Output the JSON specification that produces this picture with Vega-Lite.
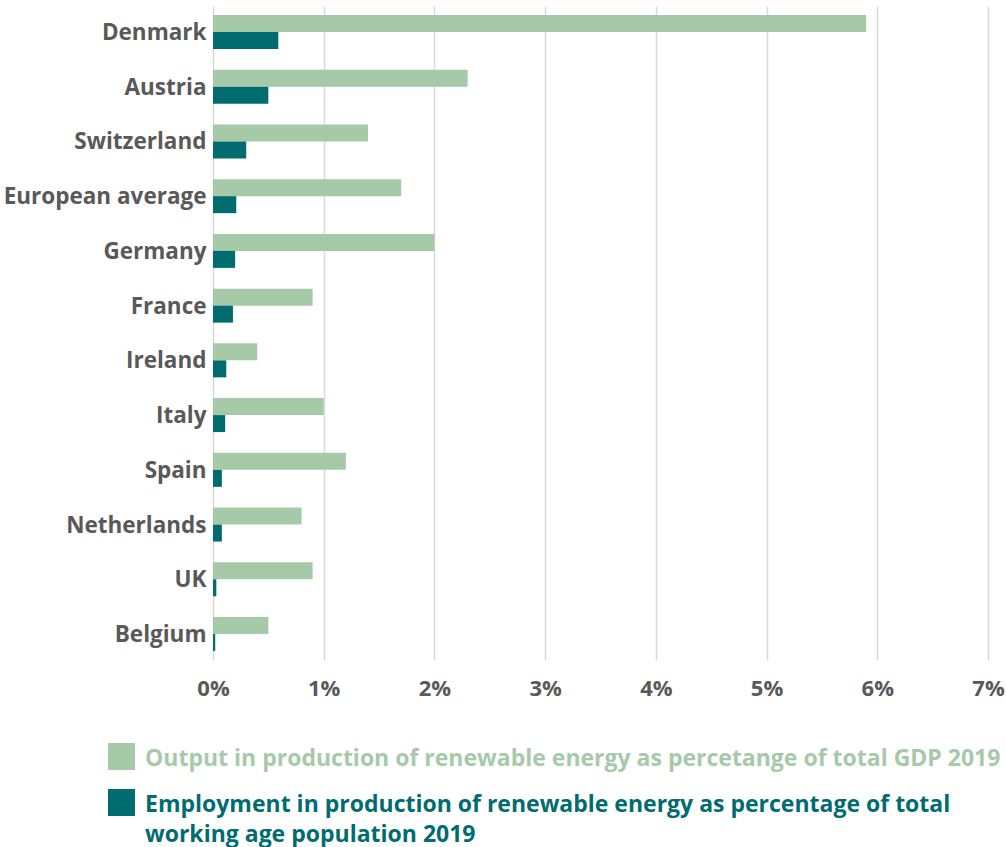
{
  "$schema": "https://vega.github.io/schema/vega-lite/v6.json",
  "width": 775,
  "height": 654,
  "autosize": {"type": "none"},
  "padding": {"left": 213, "top": 6, "right": 18, "bottom": 187},
  "background": "white",
  "config": {"view": {"stroke": null}, "font": "Open Sans"},
  "data": {
    "values": [
      {"country": "Denmark", "series": "Output in production of renewable energy as percetange of total GDP 2019", "value": 0.059},
      {"country": "Denmark", "series": "Employment in production of renewable energy as percentage of total working age population 2019", "value": 0.0059},
      {"country": "Austria", "series": "Output in production of renewable energy as percetange of total GDP 2019", "value": 0.023},
      {"country": "Austria", "series": "Employment in production of renewable energy as percentage of total working age population 2019", "value": 0.005},
      {"country": "Switzerland", "series": "Output in production of renewable energy as percetange of total GDP 2019", "value": 0.014},
      {"country": "Switzerland", "series": "Employment in production of renewable energy as percentage of total working age population 2019", "value": 0.003},
      {"country": "European average", "series": "Output in production of renewable energy as percetange of total GDP 2019", "value": 0.017},
      {"country": "European average", "series": "Employment in production of renewable energy as percentage of total working age population 2019", "value": 0.0021},
      {"country": "Germany", "series": "Output in production of renewable energy as percetange of total GDP 2019", "value": 0.020},
      {"country": "Germany", "series": "Employment in production of renewable energy as percentage of total working age population 2019", "value": 0.002},
      {"country": "France", "series": "Output in production of renewable energy as percetange of total GDP 2019", "value": 0.009},
      {"country": "France", "series": "Employment in production of renewable energy as percentage of total working age population 2019", "value": 0.0018},
      {"country": "Ireland", "series": "Output in production of renewable energy as percetange of total GDP 2019", "value": 0.004},
      {"country": "Ireland", "series": "Employment in production of renewable energy as percentage of total working age population 2019", "value": 0.0012},
      {"country": "Italy", "series": "Output in production of renewable energy as percetange of total GDP 2019", "value": 0.010},
      {"country": "Italy", "series": "Employment in production of renewable energy as percentage of total working age population 2019", "value": 0.0011},
      {"country": "Spain", "series": "Output in production of renewable energy as percetange of total GDP 2019", "value": 0.012},
      {"country": "Spain", "series": "Employment in production of renewable energy as percentage of total working age population 2019", "value": 0.0008},
      {"country": "Netherlands", "series": "Output in production of renewable energy as percetange of total GDP 2019", "value": 0.008},
      {"country": "Netherlands", "series": "Employment in production of renewable energy as percentage of total working age population 2019", "value": 0.0008},
      {"country": "UK", "series": "Output in production of renewable energy as percetange of total GDP 2019", "value": 0.009},
      {"country": "UK", "series": "Employment in production of renewable energy as percentage of total working age population 2019", "value": 0.0003},
      {"country": "Belgium", "series": "Output in production of renewable energy as percetange of total GDP 2019", "value": 0.005},
      {"country": "Belgium", "series": "Employment in production of renewable energy as percentage of total working age population 2019", "value": 0.0002}
    ]
  },
  "mark": {"type": "bar"},
  "encoding": {
    "y": {
      "field": "country",
      "type": "nominal",
      "sort": ["Denmark", "Austria", "Switzerland", "European average", "Germany", "France", "Ireland", "Italy", "Spain", "Netherlands", "UK", "Belgium"],
      "scale": {"paddingInner": 0.379, "paddingOuter": 0.164},
      "axis": {
        "title": null,
        "domain": false,
        "ticks": false,
        "labelFontSize": 22.5,
        "labelFontWeight": "bold",
        "labelColor": "#595959",
        "labelPadding": 7,
        "labelLimit": 300,
        "labelOffset": 1
      }
    },
    "yOffset": {
      "field": "series",
      "type": "nominal",
      "sort": ["Output in production of renewable energy as percetange of total GDP 2019", "Employment in production of renewable energy as percentage of total working age population 2019"],
      "scale": {"paddingInner": 0, "paddingOuter": 0}
    },
    "x": {
      "field": "value",
      "type": "quantitative",
      "scale": {"domain": [0, 0.07], "nice": false},
      "axis": {
        "title": null,
        "values": [0, 0.01, 0.02, 0.03, 0.04, 0.05, 0.06, 0.07],
        "format": ".0%",
        "domain": false,
        "ticks": false,
        "grid": true,
        "gridColor": "#d9d9d9",
        "gridWidth": 1.5,
        "labelFontSize": 22,
        "labelFontWeight": "bold",
        "labelColor": "#595959",
        "labelPadding": 18,
        "labelFlush": false,
        "labelOverlap": false
      }
    },
    "color": {
      "field": "series",
      "type": "nominal",
      "scale": {
        "domain": ["Output in production of renewable energy as percetange of total GDP 2019", "Employment in production of renewable energy as percentage of total working age population 2019"],
        "range": ["#a6caa8", "#006c70"]
      },
      "legend": {
        "title": null,
        "orient": "none",
        "legendX": -105,
        "legendY": 737,
        "direction": "vertical",
        "symbolType": "square",
        "symbolSize": 729,
        "symbolStrokeWidth": 0,
        "symbolOpacity": 1,
        "labelFontSize": 23,
        "labelFontWeight": "bold",
        "labelLimit": 950,
        "labelOffset": 10,
        "rowPadding": 18,
        "labelExpr": "indexof(datum.label, 'Employment') === 0 ? ['Employment in production of renewable energy as percentage of total', 'working age population 2019'] : datum.label",
        "encode": {
          "labels": {
            "update": {
              "fill": {"signal": "indexof(datum.label, 'Employment') === 0 ? '#006c70' : '#a6caa8'"},
              "baseline": {"value": "top"},
              "dy": {"value": -9},
              "lineHeight": {"value": 30}
            }
          }
        }
      }
    }
  }
}
